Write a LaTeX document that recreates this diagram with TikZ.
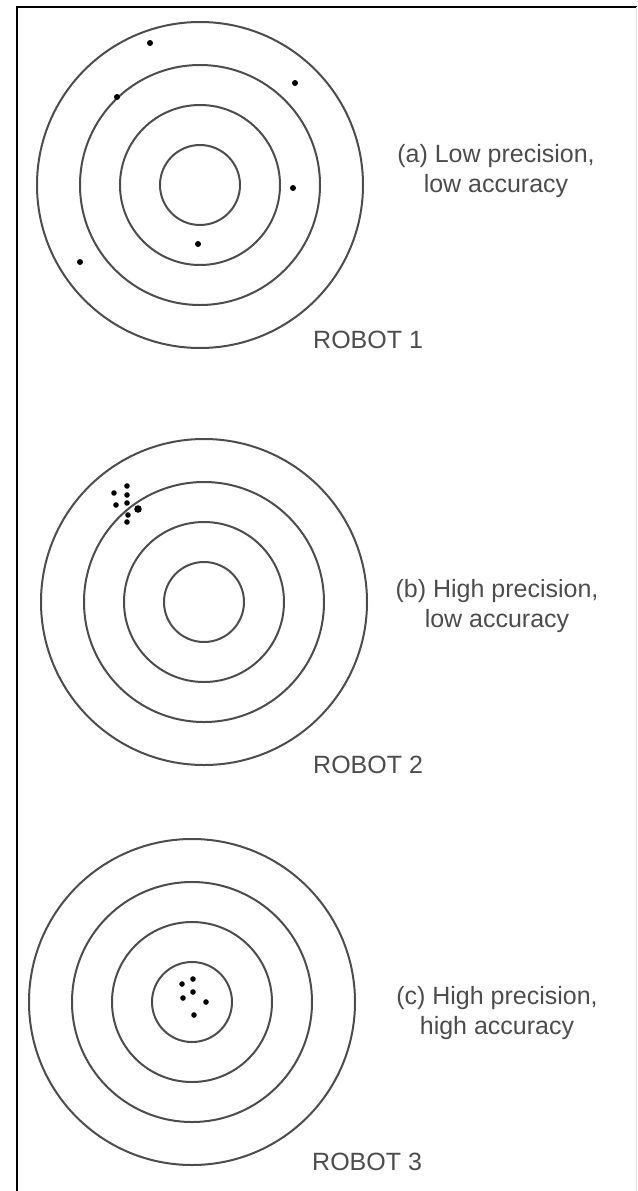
\documentclass[tikz,border=0pt]{standalone}
\usepackage{fontspec}
\setmainfont{Liberation Sans}
\begin{document}
\begin{tikzpicture}[x=1pt, y=-1pt,
	ring/.style={line width=2pt, black!70},
	hit/.style={fill=black},
	lbl/.style={inner sep=0pt, text=black!70, font=\fontsize{25}{30}\selectfont}]

\useasboundingbox (0,0) rectangle (637,1191);

% Marco
	\draw[line width=2.2pt] (17,1191) -- (17,7) -- (637,7);
	\draw[black!10, line width=1pt] (636,7) -- (636,1191);

% Dianas
	\foreach \cx/\cy in {200/185, 204/602, 192/1002}
		\foreach \r in {40, 80, 120, 163}
			\draw[ring] (\cx,\cy) circle[radius=\r pt];

% Robot 1: impactos dispersos
	\foreach \x/\y in {150/43, 295/83, 117/97, 293/188, 198/244, 80/262}
		\fill[hit] (\x,\y) circle[radius=3pt];

% Robot 2: grupo fuera del centro
	\foreach \x/\y in {127/486, 114/493, 127/495, 116/505, 127/503, 128/515, 127/522}
		\fill[hit] (\x,\y) circle[radius=2.8pt];
	\fill[hit] (138,509) circle[radius=3.8pt];

% Robot 3: grupo en el centro
	\foreach \x/\y in {193/979, 182/984, 193/992, 183/998, 206/1002, 194/1015}
		\fill[hit] (\x,\y) circle[radius=2.8pt];

% Textos
	\node[lbl, align=center] (descA) at (496,171) {(a) Low precision,\\low accuracy};
	\node[lbl, align=center] (descB) at (497,606) {(b) High precision,\\low accuracy};
	\node[lbl, align=center] (descC) at (497,1013) {(c) High precision,\\high accuracy};

	\node[lbl, anchor=base west] (robotA) at (313,348) {ROBOT 1};
	\node[lbl, anchor=base west] (robotB) at (313,773) {ROBOT 2};
	\node[lbl, anchor=base west] (robotC) at (312,1170) {ROBOT 3};
\end{tikzpicture}
\end{document}
